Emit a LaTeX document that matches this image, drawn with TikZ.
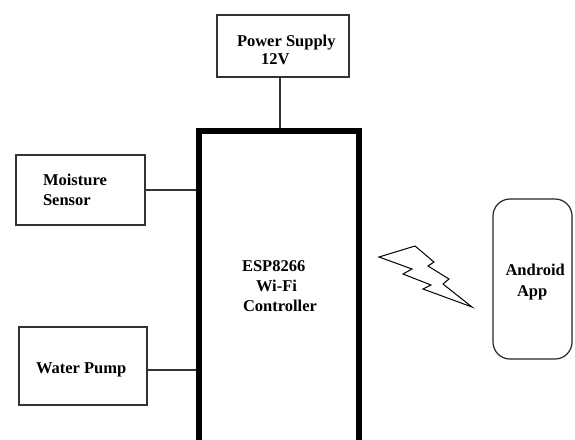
\documentclass[tikz,border=0pt]{standalone}
\usepackage{fontspec}
\setmainfont{Liberation Serif}
\begin{document}
\begin{tikzpicture}[x=1pt,y=-1pt,
  box/.style={draw=black!80,line width=1.2pt,rectangle,inner sep=0pt,outer sep=0pt},
  wire/.style={draw=black!80,line width=1.2pt},
  lbl/.style={anchor=base west,inner sep=0pt,outer sep=0pt,font=\fontsize{16.5}{18}\selectfont\bfseries,text=black}]
\path[use as bounding box] (0,0) rectangle (575,439);
\clip (0,0) rectangle (575,439);
\fill[white] (0,0) rectangle (575,439);
\node[box,minimum width=132pt,minimum height=62pt] (pwr) at (283,46) {};
\node[box,minimum width=129pt,minimum height=70pt] (moist) at (80.5,190) {};
\node[box,minimum width=128pt,minimum height=78pt] (pump) at (83,366) {};
\node[rectangle,draw=black,line width=6pt,inner sep=0pt,outer sep=3pt,minimum width=160pt,minimum height=316pt] (esp) at (279,289) {};
\node[draw=black!85,line width=1.2pt,rectangle,rounded corners=17pt,inner sep=0pt,minimum width=79pt,minimum height=160pt] (app) at (532.5,279) {};
\coordinate (cx) at (280,0);
\coordinate (yw) at (0,370);
\draw[wire] (pwr.south -| cx) -- (esp.north -| cx);
\draw[wire] (moist.east) -- (moist.east -| esp.west);
\draw[wire] (pump.east |- yw) -- (esp.west |- yw);
\node[lbl] (t1) at (237,46) {Power Supply};
\node[lbl] (t2) at (261,64) {12V};
\node[lbl] (t3) at (43,185) {Moisture};
\node[lbl] (t4) at (43,205) {Sensor};
\node[lbl] (t5) at (36,373) {Water Pump};
\node[lbl] (t6) at (242,271) {ESP8266};
\node[lbl] (t7) at (256,291) {Wi-Fi};
\node[lbl] (t8) at (243,311) {Controller};
\node[lbl] (t9) at (505.5,275) {Android};
\node[lbl] (t10) at (517,296) {App};
\draw[black,line width=1pt,line join=miter,fill=white]
  (379,257) -- (415,246) -- (434,262) -- (428,266) -- (449,279) -- (443,284)
  -- (472,307) -- (423,289) -- (431,285) -- (403,274) -- (412,269) -- cycle;
\end{tikzpicture}
\end{document}
